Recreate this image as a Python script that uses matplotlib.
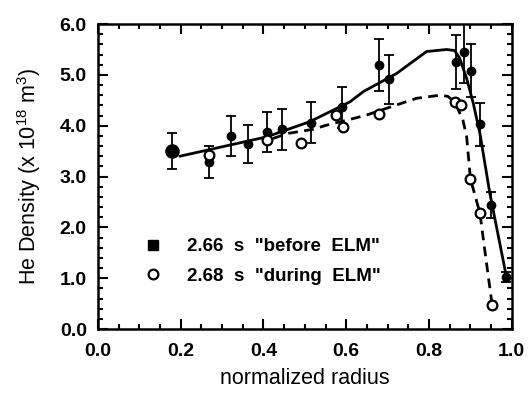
import matplotlib
matplotlib.use('Agg')
import matplotlib.pyplot as plt
from matplotlib.ticker import MultipleLocator
from matplotlib.lines import Line2D

plt.rcParams['font.family'] = ['Liberation Sans', 'DejaVu Sans']
plt.rcParams['font.weight'] = 'bold'
plt.rcParams['mathtext.default'] = 'regular'

# 2.66 s "before ELM" (filled points with error bars)
r_before = [0.178, 0.269, 0.321, 0.363, 0.409, 0.446, 0.514, 0.589, 0.679, 0.704,
            0.866, 0.884, 0.901, 0.924, 0.949, 0.987]
n_before = [3.50, 3.29, 3.80, 3.64, 3.88, 3.93, 4.06, 4.36, 5.19, 4.91,
            5.26, 5.46, 5.08, 4.03, 2.44, 1.03]
err_before = [0.36, 0.32, 0.39, 0.37, 0.40, 0.40, 0.40, 0.41, 0.51, 0.49,
              0.53, 0.62, 0.52, 0.42, 0.26, 0.10]

# 2.68 s "during ELM" (open points)
r_during = [0.269, 0.409, 0.490, 0.576, 0.591, 0.679, 0.862, 0.878, 0.900, 0.923, 0.951]
n_during = [3.42, 3.72, 3.67, 4.21, 3.98, 4.24, 4.47, 4.41, 2.96, 2.28, 0.47]

# fitted profiles
fit_before_r = [0.198, 0.319, 0.407, 0.512, 0.609, 0.641, 0.722, 0.794, 0.842, 0.862,
                0.874, 0.891, 0.907, 0.923, 0.947, 0.987]
fit_before_n = [3.40, 3.62, 3.78, 4.08, 4.47, 4.67, 5.03, 5.46, 5.50, 5.48,
                5.33, 4.93, 4.44, 3.85, 2.67, 1.03]
fit_during_r = [0.423, 0.460, 0.520, 0.552, 0.621, 0.649, 0.722, 0.770, 0.826, 0.845,
                0.862, 0.882, 0.891, 0.900, 0.923, 0.939, 0.951]
fit_during_n = [3.75, 3.85, 3.93, 4.01, 4.15, 4.21, 4.41, 4.54, 4.60, 4.58,
                4.47, 4.11, 3.78, 2.96, 2.28, 1.29, 0.57]

fig = plt.figure(figsize=(5.32, 3.95), dpi=100)
ax = fig.add_axes([0.184, 0.167, 0.778, 0.772])

ax.plot(fit_before_r, fit_before_n, color='black', lw=2.0, solid_capstyle='round')
ax.plot(fit_during_r, fit_during_n, color='black', lw=2.0, dashes=(3.5, 2.3))

ax.errorbar(r_before, n_before, yerr=err_before, fmt='none', ecolor='black',
            elinewidth=1.3, capsize=3.5, capthick=1.3)
sizes = [9.5] + [6] * (len(r_before) - 1)
for r, n, s in zip(r_before, n_before, sizes):
    ax.plot(r, n, 'o', color='black', ms=s)
ax.plot(r_during, n_during, 'o', mfc='white', mec='black', mew=1.6, ms=7)

ax.set_xlim(0, 1.0)
ax.set_ylim(0, 6.0)
ax.xaxis.set_major_locator(MultipleLocator(0.2))
ax.xaxis.set_minor_locator(MultipleLocator(0.05))
ax.yaxis.set_major_locator(MultipleLocator(1.0))
ax.yaxis.set_minor_locator(MultipleLocator(0.2))
ax.xaxis.set_major_formatter(lambda v, p: f'{v:.1f}')
ax.yaxis.set_major_formatter(lambda v, p: f'{v:.1f}')
ax.tick_params(which='both', direction='in', top=True, right=True, width=1.5,
               labelsize=14)
ax.tick_params(axis='x', pad=10)
ax.tick_params(axis='y', pad=8)
ax.tick_params(which='major', length=7)
ax.tick_params(which='minor', length=3.5)
for s in ax.spines.values():
    s.set_linewidth(1.8)

ax.set_xlabel('normalized radius', fontsize=15.5, labelpad=6)
ax.set_ylabel('He Density (x 10$^{18}$ m$^{3}$)', fontsize=15.5, labelpad=12)

handles = [Line2D([], [], ls='none', marker='s', color='black', ms=7),
           Line2D([], [], ls='none', marker='o', mfc='white', mec='black', mew=1.6, ms=7)]
labels = ['2.66  s  "before  ELM"', '2.68  s  "during  ELM"']
ax.legend(handles, labels, loc='lower left', bbox_to_anchor=(0.07, 0.09),
          frameon=False, fontsize=13.5, handlelength=1.0, handletextpad=1.3,
          labelspacing=0.65)

fig.savefig('out.png', dpi=100)
